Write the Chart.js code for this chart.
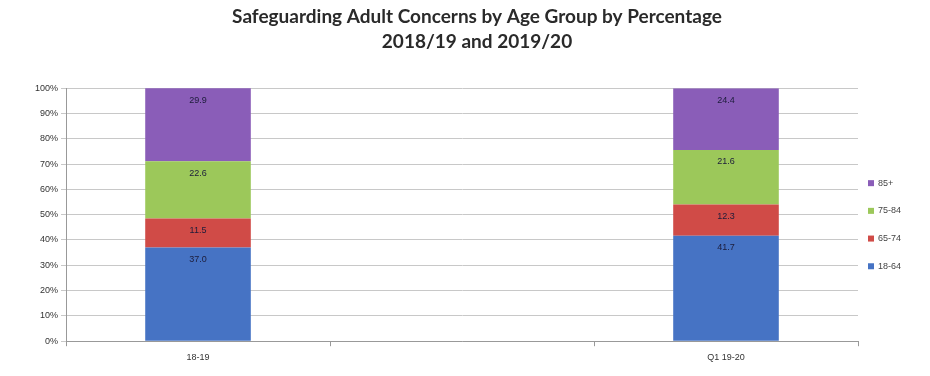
<!DOCTYPE html>
<html>
<head>
<meta charset="utf-8">
<script src="https://cdn.jsdelivr.net/npm/chart.js@4"></script>
<style>
  html, body { margin: 0; padding: 0; background: #fff; }
  #wrap { width: 930px; height: 376px; }
</style>
</head>
<body>
<div id="wrap"><canvas id="ageChart"></canvas></div>
<script>
'use strict';

// categorias (a do meio fica vazia, como no original)
const categories = ['18-19', '', 'Q1 19-20'];

// percentagens por faixa etária
const age18to64 = [37.0, null, 41.7];
const age65to74 = [11.5, null, 12.3];
const age75to84 = [22.6, null, 21.6];
const age85plus = [29.9, null, 24.4];

const yTicks = [0, 10, 20, 30, 40, 50, 60, 70, 80, 90, 100];

const smallFont = '9px "Liberation Sans", Arial, sans-serif';

// rótulos dentro de cada segmento, perto do topo
const segmentLabels = {
    id: 'segmentLabels',
    afterDatasetsDraw(chart) {
        const c = chart.ctx;
        c.save();
        c.font = smallFont;
        c.fillStyle = '#1c1c3a';
        c.textAlign = 'center';
        c.textBaseline = 'middle';
        chart.data.datasets.forEach((ds, i) => {
            const meta = chart.getDatasetMeta(i);
            meta.data.forEach((bar, j) => {
                const v = ds.data[j];
                if (v == null) return;
                const top = Math.max(bar.y, chart.chartArea.top);
                c.fillText(v.toFixed(1), bar.x, top + 12);
            });
        });
        c.restore();
    }
};

// legenda à direita, ordem invertida (85+ em cima)
const sideLegend = {
    id: 'sideLegend',
    afterDraw(chart) {
        const c = chart.ctx;
        const area = chart.chartArea;
        const items = chart.data.datasets.slice().reverse();
        const step = 27.7;
        const y0 = area.top + 95;
        const x0 = area.right + 10;
        c.save();
        c.font = smallFont;
        c.textBaseline = 'middle';
        c.textAlign = 'left';
        items.forEach((ds, k) => {
            const y = y0 + k * step;
            c.fillStyle = ds.backgroundColor;
            c.fillRect(x0, y - 3, 6, 6);
            c.fillStyle = '#444';
            c.fillText(ds.label, x0 + 10, y);
        });
        c.restore();
    }
};

const ctx = document.getElementById('ageChart').getContext('2d');

new Chart(ctx, {
    type: 'bar',
    data: {
        labels: categories,
        datasets: [
            { label: '18-64', data: age18to64, backgroundColor: '#4673c4' },
            { label: '65-74', data: age65to74, backgroundColor: '#d04b47' },
            { label: '75-84', data: age75to84, backgroundColor: '#9cc85a' },
            { label: '85+', data: age85plus, backgroundColor: '#8a5db8' }
        ]
    },
    options: {
        responsive: true,
        maintainAspectRatio: false,
        animation: false,
        barPercentage: 0.4,
        categoryPercentage: 1.0,
        layout: { padding: { left: 32, right: 8, top: 4, bottom: 7 } },
        plugins: {
            title: {
                display: true,
                text: ['Safeguarding Adult Concerns by Age Group by Percentage', '2018/19 and 2019/20'],
                font: { family: 'Lato', size: 19, weight: 'bold', lineHeight: 1.32 },
                color: '#2a2a2a',
                padding: { top: 0, bottom: 34 }
            },
            legend: { display: false },
            tooltip: { enabled: false }
        },
        scales: {
            x: {
                stacked: true,
                offset: true,
                grid: { display: true, drawOnChartArea: false, offset: true, tickLength: 5, color: '#999' },
                border: { color: '#999' },
                ticks: { color: '#333', font: { family: '"Liberation Sans", Arial', size: 9 }, padding: 6 }
            },
            y: {
                stacked: true,
                min: 0,
                max: 100,
                afterBuildTicks: axis => { axis.ticks = yTicks.map(v => ({ value: v })); },
                grid: { color: '#c8c8c8', tickLength: 5 },
                border: { color: '#999' },
                ticks: {
                    color: '#333',
                    font: { family: '"Liberation Sans", Arial', size: 9 },
                    callback: v => v + '%'
                }
            },
            // eixo vazio só para reservar espaço da legenda
            legendSpace: {
                type: 'linear',
                position: 'right',
                min: 0,
                max: 100,
                grid: { display: false },
                border: { display: false },
                ticks: { display: false },
                afterFit: axis => { axis.width = 64; }
            }
        }
    },
    plugins: [segmentLabels, sideLegend]
});
</script>
</body>
</html>
